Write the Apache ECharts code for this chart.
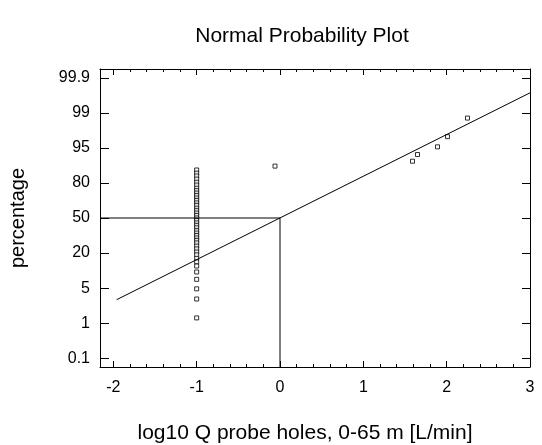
<!DOCTYPE html>
<html>
<head>
<meta charset="utf-8">
<script src="https://cdn.jsdelivr.net/npm/echarts@6/dist/echarts.min.js"></script>
<style>html,body{margin:0;padding:0;background:#fff}#c{width:542px;height:445px}</style>
</head>
<body>
<div id="c"></div>
<script>
// y values are positions on the (evenly spaced) probability axis: 0 -> 0.1%, 8 -> 99.9%
var yTickLabels = ['0.1', '1', '5', '20', '50', '80', '95', '99', '99.9'];
var yTickPos = [0, 1, 2, 3, 4, 5, 6, 7, 8];
var xTickLabels = [-2, -1, 0, 1, 2, 3];

var columnX = -1;
var columnY = [5.37, 5.28, 5.20, 5.11, 5.02, 4.94, 4.85, 4.78, 4.71, 4.64, 4.57, 4.50, 4.43, 4.36,
  4.28, 4.21, 4.14, 4.07, 4.00, 3.93, 3.86, 3.79, 3.72, 3.64, 3.57, 3.50, 3.43, 3.36, 3.29,
  3.20, 3.12, 3.03, 2.95, 2.85, 2.75, 2.63, 2.46, 2.25, 1.98, 1.69, 1.15];
var otherX = [-0.06, 1.59, 1.65, 1.89, 2.01, 2.25];
var otherY = [5.48, 5.62, 5.81, 6.03, 6.32, 6.85];
var fitX = [-1.96, 3];
var fitY = [1.67, 7.57];
var refX = [-2.16, 0, 0];
var refY = [4, 4, -0.25];

var xMin = -2.16, xMax = 3, yMin = -0.25, yMax = 8.25;
var minorX = [];
for (var i = -10; i <= 15; i++) { if (i % 5 !== 0) minorX.push(+(i * 0.2).toFixed(1)); }

var pts = [];
columnY.forEach(function (y) { pts.push([columnX, y]); });
otherX.forEach(function (x, i) { pts.push([x, otherY[i]]); });

var font = 'Liberation Sans, Arial, sans-serif';
var black = '#000';
function xAx(pos, major, labels) {
  return {
    type: 'value', position: pos, min: xMin, max: xMax,
    axisLine: { show: major, onZero: false, lineStyle: { color: black, width: 1 } },
    axisTick: { show: true, inside: true, length: major ? 6 : 3, customValues: major ? xTickLabels : minorX,
      lineStyle: { color: black, width: 1 } },
    axisLabel: { show: labels, customValues: xTickLabels, color: black, fontSize: 16, fontFamily: font, margin: 13 },
    splitLine: { show: false }
  };
}
var chart = echarts.init(document.getElementById('c'));
chart.setOption({
  animation: false,
  backgroundColor: '#fff',
  title: [
    { text: 'Normal Probability Plot', left: 297, top: 21, textAlign: 'center',
      textStyle: { fontSize: 21, fontWeight: 'normal', color: black, fontFamily: font } },
    { text: 'log10 Q probe holes, 0-65 m [L/min]', left: 300, top: 418, textAlign: 'center',
      textStyle: { fontSize: 21, fontWeight: 'normal', color: black, fontFamily: font } }
  ],
  grid: { left: 100, top: 69, width: 430, height: 298 },
  xAxis: [xAx('bottom', true, true), xAx('bottom', false, false), xAx('top', true, false), xAx('top', false, false)],
  yAxis: [
    { type: 'value', position: 'left', min: yMin, max: yMax,
      name: 'percentage', nameLocation: 'middle', nameRotate: 90, nameGap: 72,
      nameTextStyle: { fontSize: 20, color: black, fontFamily: font },
      axisLine: { show: true, onZero: false, lineStyle: { color: black, width: 1 } },
      axisTick: { show: true, inside: true, length: 9, customValues: yTickPos, lineStyle: { color: black } },
      axisLabel: { customValues: yTickPos, color: black, fontSize: 16, fontFamily: font, margin: 10,
        formatter: function (v) { return yTickLabels[Math.round(v)]; } },
      splitLine: { show: false } },
    { type: 'value', position: 'right', min: yMin, max: yMax,
      axisLine: { show: true, onZero: false, lineStyle: { color: black, width: 1 } },
      axisTick: { show: true, inside: true, length: 8, customValues: yTickPos, lineStyle: { color: black } },
      axisLabel: { show: false }, splitLine: { show: false } }
  ],
  series: [
    { type: 'line', data: refX.map(function (x, i) { return [x, refY[i]]; }), showSymbol: false, symbol: 'none',
      lineStyle: { color: black, width: 1 }, silent: true },
    { type: 'line', data: fitX.map(function (x, i) { return [x, fitY[i]]; }), showSymbol: false, symbol: 'none',
      lineStyle: { color: black, width: 1 }, silent: true },
    { type: 'scatter', data: pts, symbol: 'rect', symbolSize: 4,
      itemStyle: { color: '#fff', borderColor: black, borderWidth: 1 } }
  ]
});
</script>
</body>
</html>
